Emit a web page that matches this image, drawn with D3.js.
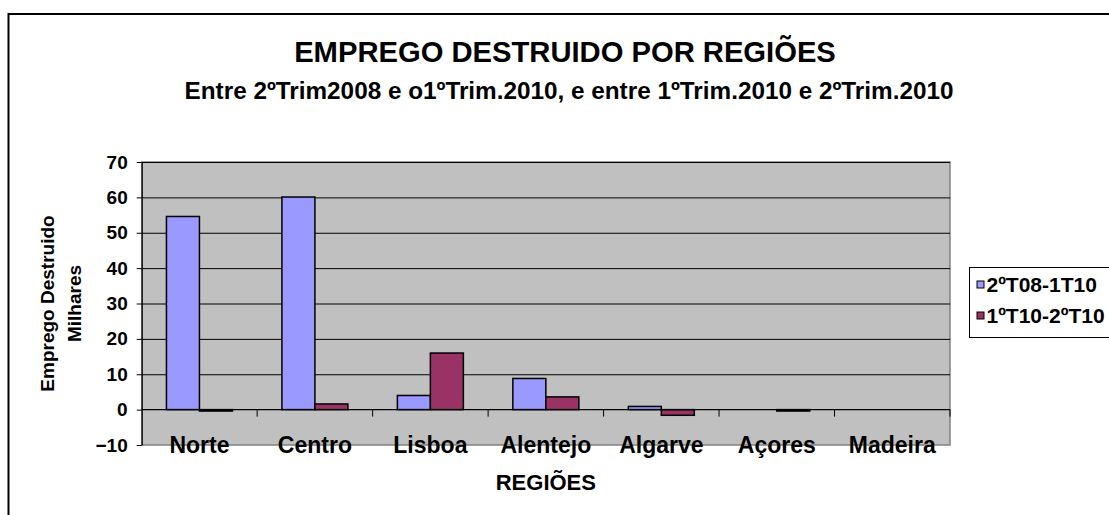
<!DOCTYPE html>
<html>
<head>
<meta charset="utf-8">
<script src="https://cdn.jsdelivr.net/npm/d3@7"></script>
<style>
    body { margin: 0; background: #ffffff; }
    text { font-family: "Liberation Sans", Arial, sans-serif; font-weight: bold; fill: #000; }
</style>
</head>
<body>
<script>
//==========================================================================//
//  DATA
//==========================================================================//

    // Regions (x axis categories)
    var regioes = ["Norte", "Centro", "Lisboa", "Alentejo", "Algarve", "Açores", "Madeira"];

    // Series names (legend)
    var series = ["2ºT08-1T10", "1ºT10-2ºT10"];

    // Emprego destruido, milhares (null = no bar shown)
    var valores2T08_1T10 = [54.6, 60.1, 4.0, 8.8, 0.9, null, null];
    var valores1T10_2T10 = [-0.4, 1.6, 16.0, 3.6, -1.6, -0.4, null];

    // Y axis ticks
    var yTicks = [-10, 0, 10, 20, 30, 40, 50, 60, 70];

    var cores = ["#9999FF", "#993366"];

//==========================================================================//
//  INITIALIZATION OF GRAPH
//==========================================================================//

    var width = 1109, height = 515;
    var plot = {left: 141.7, right: 950, top: 162, bottom: 445};

    var svg = d3.select("body")
        .append("svg")
        .attr("width", width)
        .attr("height", height);

    // Chart border (runs off the right and bottom of the picture)
    svg.append("rect")
        .attr("x", 8.5)
        .attr("y", 14)
        .attr("width", 1200)
        .attr("height", 600)
        .attr("fill", "none")
        .attr("stroke", "#000")
        .attr("stroke-width", 2);

    // Scales
    var x0 = d3.scaleBand()
        .domain(regioes)
        .range([plot.left, plot.right])
        .paddingInner(1.5 / 3.5)
        .paddingOuter(0.75 / 3.5);

    var x1 = d3.scaleBand()
        .domain(series)
        .range([0, x0.bandwidth()]);

    var y = d3.scaleLinear()
        .domain([-10, 70])
        .range([plot.bottom, plot.top]);

    // Plot area
    svg.append("rect")
        .attr("x", plot.left)
        .attr("y", plot.top)
        .attr("width", plot.right - plot.left)
        .attr("height", plot.bottom - plot.top)
        .attr("fill", "#C0C0C0")
        .attr("stroke", "#808080")
        .attr("stroke-width", 1.5);

    // Y gridlines
    svg.append("g")
        .attr("transform", "translate(" + plot.left + ",0)")
        .call(d3.axisLeft(y)
            .tickValues(yTicks.filter(function(d) { return d > 0; }))
            .tickSize(-(plot.right - plot.left))
            .tickFormat(""))
        .call(function(g) { g.select(".domain").remove(); })
        .selectAll("line")
            .attr("stroke", "#000")
            .attr("stroke-width", 1);

    // Y axis
    var yAxis = svg.append("g")
        .attr("transform", "translate(" + plot.left + ",0)")
        .call(d3.axisLeft(y)
            .tickValues(yTicks)
            .tickSize(5)
            .tickPadding(9)
            .tickSizeOuter(0));
    yAxis.select(".domain").attr("stroke", "#000").attr("stroke-width", 1.2);
    yAxis.selectAll(".tick line").attr("stroke", "#000");
    yAxis.selectAll("text")
        .style("font-size", "19px")
        .style("font-family", "'Liberation Sans', Arial, sans-serif")
        .style("font-weight", "bold");

//==========================================================================//
//  BARS
//==========================================================================//

    var dados = [valores2T08_1T10, valores1T10_2T10];

    series.forEach(function(s, i) {
        svg.selectAll("bar" + i)
            .data(regioes.map(function(r, j) { return {regiao: r, valor: dados[i][j]}; })
                  .filter(function(d) { return d.valor !== null; }))
            .join("rect")
                .attr("x", function(d) { return x0(d.regiao) + x1(s); })
                .attr("y", function(d) { return y(Math.max(0, d.valor)); })
                .attr("width", x1.bandwidth())
                .attr("height", function(d) { return Math.abs(y(d.valor) - y(0)); })
                .attr("fill", cores[i])
                .attr("stroke", "#000")
                .attr("stroke-width", 1.5);
    });

    // X axis on the zero line, ticks between categories
    var xAxis = svg.append("g")
        .attr("transform", "translate(0," + y(0) + ")");
    xAxis.append("line")
        .attr("x1", plot.left)
        .attr("x2", plot.right)
        .attr("stroke", "#000")
        .attr("stroke-width", 1.2);
    xAxis.selectAll("line.tick")
        .data(regioes)
        .join("line")
            .attr("class", "tick")
            .attr("x1", function(d) { return x0(d) + x0.bandwidth() + x0.step() * x0.paddingInner() / 2; })
            .attr("x2", function(d) { return x0(d) + x0.bandwidth() + x0.step() * x0.paddingInner() / 2; })
            .attr("y1", 0)
            .attr("y2", 7)
            .attr("stroke", "#000");

    // Category labels
    svg.selectAll("text.cat")
        .data(regioes)
        .join("text")
            .attr("class", "cat")
            .attr("x", function(d) { return x0(d) + x0.bandwidth() / 2; })
            .attr("y", 452.5)
            .attr("text-anchor", "middle")
            .style("font-size", "23px")
            .text(function(d) { return d; });

//==========================================================================//
//  TITLES AND LEGEND
//==========================================================================//

    svg.append("text")
        .attr("x", 565)
        .attr("y", 61.5)
        .attr("text-anchor", "middle")
        .style("font-size", "29.2px")
        .text("EMPREGO DESTRUIDO POR REGIÕES");

    svg.append("text")
        .attr("x", 569)
        .attr("y", 99)
        .attr("text-anchor", "middle")
        .style("font-size", "24.3px")
        .text("Entre 2ºTrim2008 e o1ºTrim.2010, e entre 1ºTrim.2010 e 2ºTrim.2010");

    svg.append("text")
        .attr("x", (plot.left + plot.right) / 2)
        .attr("y", 490)
        .attr("text-anchor", "middle")
        .style("font-size", "22px")
        .text("REGIÕES");

    var yLabel = svg.append("text")
        .attr("transform", "translate(54," + ((plot.top + plot.bottom) / 2) + ") rotate(-90)")
        .attr("text-anchor", "middle")
        .style("font-size", "19px");
    yLabel.append("tspan").attr("x", 0).attr("y", 0).text("Emprego Destruido");
    yLabel.append("tspan").attr("x", 0).attr("y", 27).text("Milhares");

    // Legend
    svg.append("rect")
        .attr("x", 969.5)
        .attr("y", 267.5)
        .attr("width", 200)
        .attr("height", 70)
        .attr("fill", "#fff")
        .attr("stroke", "#000")
        .attr("stroke-width", 1);

    var legenda = svg.selectAll("g.leg")
        .data(series)
        .join("g")
            .attr("class", "leg")
            .attr("transform", function(d, i) { return "translate(977," + (284.5 + i * 31) + ")"; });
    legenda.append("rect")
        .attr("x", 0)
        .attr("y", -3.5)
        .attr("width", 7)
        .attr("height", 7)
        .attr("fill", function(d, i) { return cores[i]; })
        .attr("stroke", "#000")
        .attr("stroke-width", 1);
    legenda.append("text")
        .attr("x", 9.5)
        .attr("dy", "0.36em")
        .style("font-size", "21px")
        .text(function(d) { return d; });
</script>
</body>
</html>
